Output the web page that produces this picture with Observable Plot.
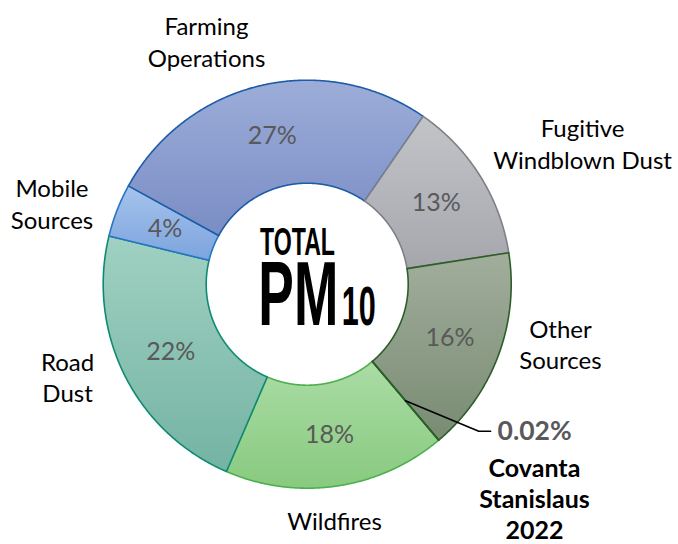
<!DOCTYPE html>
<html><head><meta charset="utf-8">
<script src="https://cdn.jsdelivr.net/npm/d3@7"></script>
<script src="https://cdn.jsdelivr.net/npm/@observablehq/plot@0.6"></script>
<style>body{margin:0;background:#fff}svg{display:block}</style>
</head><body><div id="chart"></div>
<script>
// ---- data ----
const categories = ["Farming Operations","Fugitive Windblown Dust","Other Sources","Covanta Stanislaus 2022","Wildfires","Road Dust","Mobile Sources"];
const values = [26.6, 12.9, 16.3, 0.02, 17.6, 22.3, 4.2];
const percentLabels = ["27%","13%","16%","0.02%","18%","22%","4%"];
const categoryLabels = ["Farming\nOperations","Fugitive\nWindblown Dust","Other\nSources","Covanta\nStanislaus\n2022","Wildfires","Road\nDust","Mobile\nSources"];
const centerTitle = ["TOTAL", "PM", "10"];

// ---- styles / layout ----
const gradTop    = ["#9cadd9","#c3c4c8","#a1ae9c","#6f8468","#abdca5","#a0d1c2","#a6c3ec"];
const gradBottom = ["#7a8dc4","#a6a7ad","#798b73","#6f8468","#88ca7f","#74b3a3","#7ca4de"];
const strokes    = ["#1d5ca8","#7f8087","#2d5e28","#2d5e28","#4caf50","#0f8a72","#2675c2"];
const drawOrder  = [4,5,6,0,1,2,3];
const labelAngle  = [337.5, 62.85, 103.2, null, 173.4, 248.9, 287.65];
const labelRadius = [1.290, 1.517, 1.275, null, 1.166, 1.259, 1.313];
const W = 678, H = 544, CX = 306.7, CY = 283.7, R = 204;
const inner = 101 / R, startAngle = 298.8;
const callout = {elbow: [0.841, -0.721], end: [0.899, -0.721], text: [0.933, -0.721], label: [1.114, -1.05]};
const FONT = "Lato, 'Open Sans', sans-serif";

// ---- derived slices ----
const total = d3.sum(values);
let acc = 0;
const slices = categories.map((name, i) => {
  const a0 = startAngle + acc / total * 360;
  acc += values[i];
  const a1 = startAngle + acc / total * 360;
  return {i, name, value: values[i], a0, a1, mid: (a0 + a1) / 2};
});
const rad = a => a * Math.PI / 180;
const px = (r, a) => r * Math.sin(rad(a));
const py = (r, a) => r * Math.cos(rad(a));
function ring(s) {
  const n = Math.max(2, Math.ceil((s.a1 - s.a0) / 0.25));
  const pts = [];
  for (let k = 0; k <= n; k++) { const a = s.a0 + (s.a1 - s.a0) * k / n; pts.push({x: px(1, a), y: py(1, a)}); }
  for (let k = n; k >= 0; k--) { const a = s.a0 + (s.a1 - s.a0) * k / n; pts.push({x: px(inner, a), y: py(inner, a)}); }
  pts.push(pts[0]);
  return pts;
}
const midR = (1 + inner) / 2;
const cov = slices[3];
const leader = [
  {x: px(midR, cov.mid), y: py(midR, cov.mid)},
  {x: callout.elbow[0], y: callout.elbow[1]},
  {x: callout.end[0], y: callout.end[1]}
];
const outLabels = slices.filter(s => labelAngle[s.i] != null);

const defs = () => {
  const d = d3.create("svg:defs");
  slices.forEach(s => {
    const g = d.append("linearGradient").attr("id", "g" + s.i).attr("x1", 0).attr("y1", 0).attr("x2", 0).attr("y2", 1);
    g.append("stop").attr("offset", "0%").attr("stop-color", gradTop[s.i]);
    g.append("stop").attr("offset", "100%").attr("stop-color", gradBottom[s.i]);
  });
  return d.node();
};

const centerText = (index, scales) => {
  const g = d3.create("svg:g")
    .attr("transform", `translate(${scales.x(0)},${scales.y(0)})`)
    .attr("font-family", "'Liberation Sans', Arial, sans-serif").attr("font-weight", "bold")
    .attr("fill", "#000").attr("text-anchor", "start");
  const spec = [
    {t: centerTitle[0], x: -46.7, y: -28.7, size: 38.7, len: 75},
    {t: centerTitle[1], x: -48.4, y: 41.3, size: 90.8, len: 80},
    {t: centerTitle[2], x: 35, y: 41.3, size: 55.9, len: 34}
  ];
  spec.forEach(s => g.append("text").attr("x", s.x).attr("y", s.y).attr("font-size", s.size)
    .attr("text-anchor", "start")
    .attr("textLength", s.len).attr("lengthAdjust", "spacingAndGlyphs").text(s.t));
  return g.node();
};

const chart = Plot.plot({
  width: W, height: H,
  margin: 0,
  x: {domain: [-CX / R, (W - CX) / R], axis: null},
  y: {domain: [-(H - CY) / R, CY / R], axis: null},
  marks: [
    defs,
    ...drawOrder.map(i => Plot.line(ring(slices[i]), {
      x: "x", y: "y", fill: `url(#g${i})`, stroke: strokes[i], strokeWidth: 1.6, strokeLinejoin: "round", curve: "linear"
    })),
    Plot.text(slices.filter(s => s.i !== 3), {
      x: s => px(midR, s.mid), y: s => py(midR, s.mid), text: s => percentLabels[s.i],
      fill: "#595959", fontSize: 25, fontFamily: FONT
    }),
    Plot.text(outLabels, {
      x: s => px(labelRadius[s.i], labelAngle[s.i]), y: s => py(labelRadius[s.i], labelAngle[s.i]),
      text: s => categoryLabels[s.i], fill: "#000", fontSize: 24, fontFamily: FONT, lineHeight: 1.3, lineAnchor: "middle"
    }),
    Plot.line(leader, {x: "x", y: "y", stroke: "#000", strokeWidth: 1.6}),
    Plot.text([cov], {
      x: () => callout.text[0], y: () => callout.text[1], text: s => percentLabels[s.i],
      fill: "#595959", fontSize: 26.5, fontWeight: "bold", fontFamily: FONT, textAnchor: "start"
    }),
    Plot.text([cov], {
      x: () => callout.label[0], y: () => callout.label[1], text: s => categoryLabels[s.i],
      fill: "#000", fontSize: 25, fontWeight: "bold", fontFamily: FONT, lineHeight: 1.24, lineAnchor: "middle"
    }),
    centerText
  ]
});
document.getElementById("chart").appendChild(chart);
</script>
</body></html>
